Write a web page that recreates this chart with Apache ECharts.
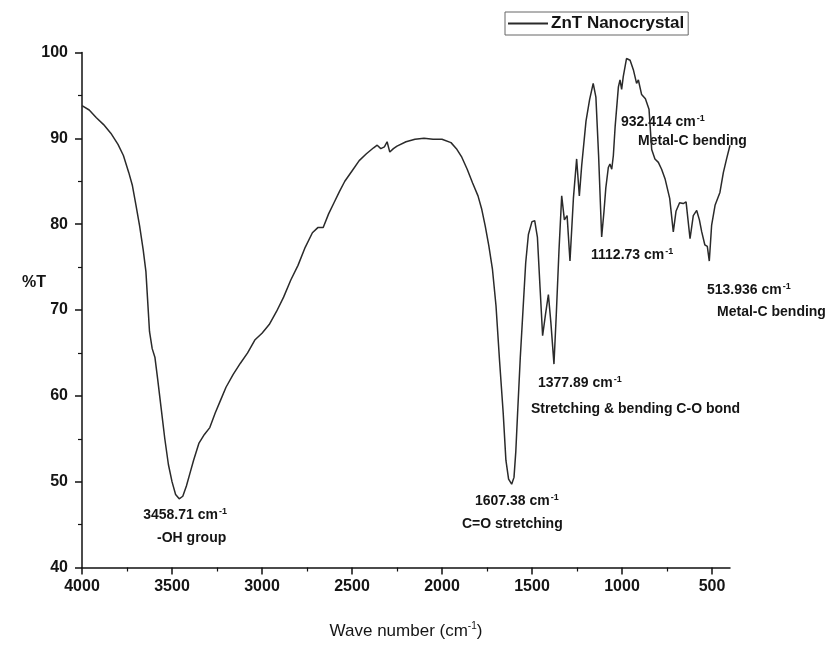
<!DOCTYPE html>
<html><head><meta charset="utf-8">
<script src="https://cdn.jsdelivr.net/npm/echarts@6/dist/echarts.min.js"></script>
<style>html,body{margin:0;padding:0;background:#fff}#c{width:832px;height:645px}</style>
</head><body><div id="c"></div>
<script>
// Wavenumber (cm-1) and transmittance (%T)
const wavenumbers = [4000,3960,3920,3880,3840,3800,3770,3740,3720,3700,3680,3660,3645,3635,3625,3610,3595,3580,3560,3540,3520,3500,3480,3460,3440,3420,3400,3380,3350,3320,3290,3260,3230,3200,3160,3120,3080,3040,3000,2960,2920,2880,2840,2800,2760,2720,2690,2660,2630,2600,2570,2540,2500,2460,2420,2380,2360,2340,2320,2305,2290,2270,2250,2200,2150,2100,2050,2000,1950,1920,1890,1860,1830,1800,1780,1760,1740,1720,1700,1680,1660,1645,1630,1613,1600,1590,1580,1565,1550,1535,1520,1500,1485,1470,1455,1441,1425,1409,1395,1378,1365,1350,1335,1320,1305,1289,1270,1252,1237,1224,1200,1180,1160,1145,1130,1113,1100,1090,1076,1067,1057,1048,1038,1020,1011,1002,993,975,955,937,919,909,891,870,850,835,817,798,780,761,735,715,700,680,660,644,622,604,585,570,557,540,526,515,502,483,456,437,419,400];
const transmittance = [93.8,93.3,92.4,91.6,90.6,89.3,88.0,86.0,84.5,82.2,79.8,77.0,74.5,71.0,67.5,65.5,64.5,62.0,58.5,55.0,52.0,50.0,48.5,48.0,48.3,49.5,51.0,52.5,54.5,55.5,56.3,58.0,59.5,61.0,62.5,63.8,65.0,66.5,67.3,68.3,69.8,71.5,73.5,75.2,77.3,79.0,79.6,79.6,81.2,82.5,83.8,85.0,86.2,87.4,88.2,88.9,89.2,88.8,89.0,89.6,88.4,88.8,89.1,89.6,89.9,90.0,89.9,89.9,89.5,88.8,87.8,86.4,84.8,83.3,81.8,79.8,77.5,74.8,70.5,64.0,58.0,52.5,50.3,49.7,50.5,53.5,58.0,64.5,70.0,75.5,78.8,80.3,80.4,78.5,72.5,67.0,69.5,71.8,68.5,63.7,69.5,77.0,83.3,80.5,81.0,75.7,83.0,87.6,83.3,86.8,92.0,94.5,96.4,94.8,88.0,78.5,81.5,84.2,86.6,87.0,86.4,88.0,91.4,96.0,96.8,95.7,97.2,99.3,99.1,98.0,96.4,96.8,95.1,94.6,93.4,88.7,87.6,87.2,86.4,85.3,83.0,79.1,81.5,82.5,82.4,82.6,78.3,81.0,81.6,80.5,79.1,77.6,77.4,75.7,79.9,82.2,83.7,86.0,87.6,89.2];

const seriesName = 'ZnT Nanocrystal';
const xMajorTicks = [500,1000,1500,2000,2500,3000,3500,4000];
const xMinorTicks = [750,1250,1750,2250,2750,3250,3750];
const yTicks = [40,50,60,70,80,90,100];

// Annotation anchors (left edge of text) in data coordinates
const annoX = [1006, 911, 1172, 528, 472, 1467, 1506, 1817, 1889, 3660, 3583];
const annoY = [91.9, 89.7, 76.4, 72.3, 69.7, 61.5, 58.5, 47.75, 45.1, 46.1, 43.4];
const annoText = [
  '{t|932.414 cm}{s|-1}', '{t|Metal-C bending}',
  '{t|1112.73 cm}{s|-1}',
  '{t|513.936 cm}{s|-1}', '{t|Metal-C bending}',
  '{t|1377.89 cm}{s|-1}', '{t|Stretching & bending C-O bond}',
  '{t|1607.38 cm}{s|-1}', '{t|C=O stretching}',
  '{t|3458.71 cm}{s|-1}', '{t|-OH group}'
];

const FONT = 'Liberation Sans, Arial, sans-serif';
const TXT = '#151515';

const lineData = wavenumbers.map((w, i) => [w, transmittance[i]]);
const annoData = annoX.map((x, i) => ({ value: [x, annoY[i]], label: { formatter: annoText[i] } }));

const chart = echarts.init(document.getElementById('c'), null, { renderer: 'canvas' });
chart.setOption({
  backgroundColor: '#fff',
  animation: false,
  grid: { left: 82, right: 102, top: 52.5, bottom: 73, containLabel: false },
  legend: {
    data: [seriesName],
    left: 505, top: 12,
    padding: [3, 4, 3, 3],
    borderColor: '#666', borderWidth: 1,
    itemWidth: 40, itemHeight: 2,
    itemGap: 4,
    icon: 'rect',
    textStyle: { fontFamily: FONT, fontSize: 17, fontWeight: 'bold', color: TXT, padding: [0, 0, 0, -2] }
  },
  xAxis: [{
    type: 'value', inverse: true, min: 400, max: 4000,
    name: '{n|Wave number (cm}{s|-1}{n|)}',
    nameLocation: 'middle', nameGap: 54,
    nameTextStyle: {
      rich: {
        n: { fontFamily: FONT, fontSize: 17, color: TXT, lineHeight: 20 },
        s: { fontFamily: FONT, fontSize: 10, color: TXT, verticalAlign: 'top', lineHeight: 20, padding: [0, 0, 8, 0] }
      }
    },
    axisLine: { onZero: false, lineStyle: { color: '#111', width: 1.5 } },
    axisTick: { customValues: xMajorTicks, length: 7, lineStyle: { color: '#111', width: 1.5 } },
    axisLabel: { customValues: xMajorTicks, margin: 11, fontFamily: FONT, fontSize: 16, fontWeight: 'bold', color: TXT,
      formatter: v => String(v) },
    splitLine: { show: false }
  }, {
    type: 'value', inverse: true, min: 400, max: 4000, position: 'bottom',
    axisLine: { show: false },
    axisTick: { customValues: xMinorTicks, length: 4, lineStyle: { color: '#111', width: 1.2 } },
    axisLabel: { show: false },
    splitLine: { show: false }
  }],
  yAxis: {
    type: 'value', min: 40, max: 100, interval: 10,
    axisLine: { show: true, lineStyle: { color: '#111', width: 1.5 } },
    axisTick: { show: true, length: 7, lineStyle: { color: '#111', width: 1.5 } },
    minorTick: { show: true, splitNumber: 2, length: 4, lineStyle: { color: '#111', width: 1.2 } },
    axisLabel: { margin: 14, fontFamily: FONT, fontSize: 16, fontWeight: 'bold', color: TXT,
      formatter: v => yTicks.includes(v) ? String(v) : '' },
    splitLine: { show: false }
  },
  graphic: [{
    type: 'text', left: 22, top: 275,
    style: { text: '%T', fontFamily: FONT, fontSize: 16, fontWeight: 'bold', fill: TXT }
  }],
  series: [{
    name: seriesName, type: 'line', data: lineData,
    symbol: 'none', smooth: false,
    lineStyle: { color: '#2a2a2a', width: 1.5 },
    itemStyle: { color: '#2a2a2a' }
  }, {
    type: 'scatter', data: annoData, symbolSize: 0, silent: true,
    legendHoverLink: false,
    label: {
      show: true, position: 'right', distance: 0, color: TXT, opacity: 1,
      rich: {
        t: { fontFamily: FONT, fontSize: 14, fontWeight: 'bold', color: TXT, lineHeight: 16 },
        s: { fontFamily: FONT, fontSize: 9, fontWeight: 'bold', color: TXT, verticalAlign: 'top', lineHeight: 16, padding: [0, 0, 7, 1] }
      }
    },
    emphasis: { disabled: true }
  }]
});
</script>
</body></html>
